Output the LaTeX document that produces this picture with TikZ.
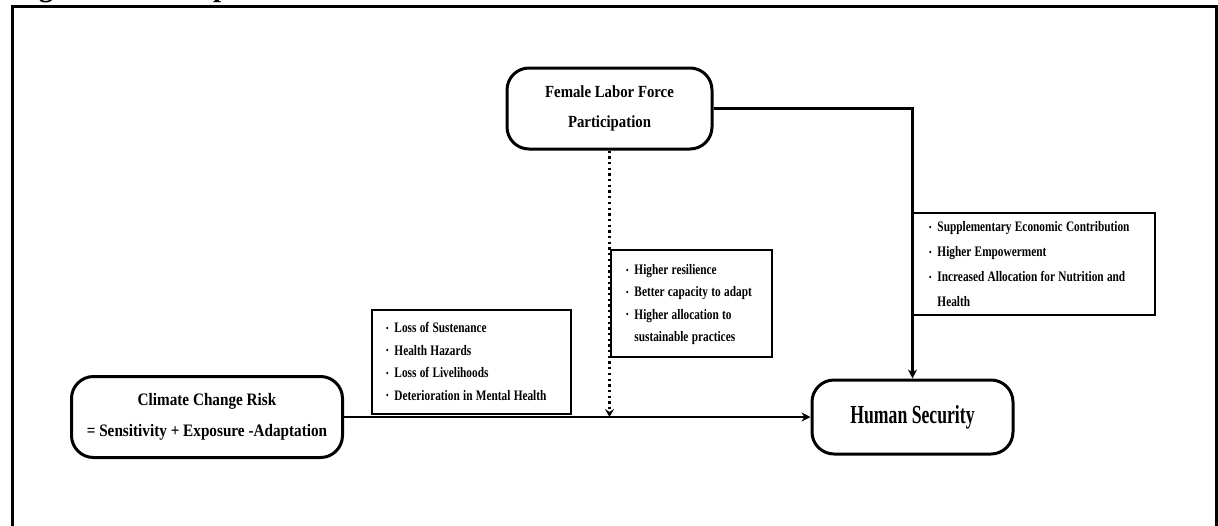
\documentclass[tikz,border=0pt]{standalone}
\usepackage{fontspec}
\setmainfont{Liberation Serif}
\newfontfamily\fsmall{Liberation Serif}[FakeStretch=0.78]
\newfontfamily\fmid{Liberation Serif}[FakeStretch=0.87]
\newfontfamily\fhs{Liberation Serif}[FakeStretch=0.68]
\usetikzlibrary{arrows.meta}
\newcommand{\bul}{{\fontsize{9}{9}\selectfont\raisebox{1.3pt}{•}}}
\newcommand{\blist}[2]{\noindent{\fsmall\bfseries\fontsize{14.5}{#1}\selectfont\begin{tabular}{@{}l@{\hspace{6pt}}l@{}}#2\end{tabular}}}
\tikzset{
  rbox/.style={draw, line width=3pt, rounded corners=22pt, align=center, inner sep=0pt},
  sbox/.style={draw, line width=2.6pt, inner ysep=0pt, align=left},
  conn/.style={line width=2.3pt, -{Stealth[length=9pt,width=9pt,inset=3pt]}},
  dotconn/.style={line width=2.3pt, dash pattern=on 2.3pt off 3.4pt, -{Stealth[length=8pt,width=9pt,inset=3pt]}}
}
\begin{document}
\begin{tikzpicture}[x=1pt,y=-1pt]
\useasboundingbox (0,0) rectangle (1218,525);
\begin{scope}
\clip (0,0) rectangle (1218,525);
\node[anchor=base west, inner sep=0pt] (cap) at (13,-3.5) {\bfseries\fontsize{29}{30}\selectfont Figure 1: Conceptual Framework};
\end{scope}
% frame
\draw[line width=3pt] (12,530) -- (12,6) -- (1216.5,6) -- (1216.5,530);

% main nodes
\node[rbox, minimum width=205, minimum height=81, font={\fmid\bfseries\fontsize{17}{30}\selectfont}] (flfp) at (609.5,108.5)
  {Female Labor Force\\Participation};
\node[rbox, minimum width=271, minimum height=81, font={\fmid\bfseries\fontsize{17.5}{31}\selectfont}] (clim) at (207,417)
  {Climate Change Risk\\= Sensitivity + Exposure -Adaptation};
\node[rbox, minimum width=201, minimum height=74, font={\fhs\bfseries\fontsize{26}{30}\selectfont}] (hs) at (912.5,417)
  {Human Security};

% list boxes
\node[sbox, minimum width=199, minimum height=104, inner xsep=14pt, text width=171pt] (loss) at (471.5,362)
  {\blist{22.4}{\bul & Loss of Sustenance\\ \bul & Health Hazards\\ \bul & Loss of Livelihoods\\ \bul & Deterioration in Mental Health}};
\node[sbox, minimum width=161, minimum height=107, inner xsep=15pt, text width=131pt] (res) at (691.5,303.5)
  {\blist{22.4}{\bul & Higher resilience\\ \bul & Better capacity to adapt\\ \bul & Higher allocation to\\ & sustainable practices}};
\node[sbox, minimum width=242, minimum height=102, inner xsep=16pt, text width=210pt] (sup) at (1034,264)
  {\blist{25}{\bul & Supplementary Economic Contribution\\ \bul & Higher Empowerment\\ \bul & Increased Allocation for Nutrition and\\ & Health}};

% connectors
\coordinate (dm) at (609.5,417);
\draw[conn] (clim.east) -- (hs.west);
\draw[conn] (flfp.east) -| (hs.north);
\draw[dotconn] (flfp.south) -- (dm);
\end{tikzpicture}
\end{document}
